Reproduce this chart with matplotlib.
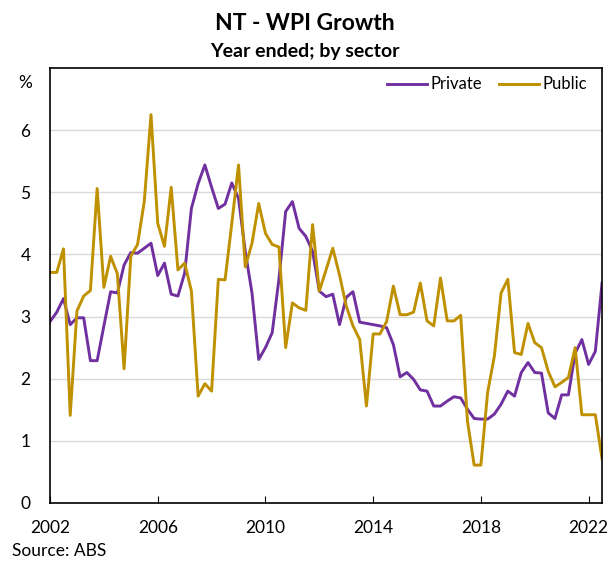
import matplotlib
matplotlib.use("Agg")
import matplotlib.pyplot as plt

plt.rcParams['font.family'] = ['Lato', 'DejaVu Sans']

# quarterly, year-ended WPI growth (%), from 2002
start_year = 2002
private = [
    2.92, 3.07, 3.29, 2.87, 2.98, 2.98, 2.29, 2.29, 2.85, 3.40,
    3.38, 3.83, 4.03, 4.02, 4.10, 4.18, 3.66, 3.86, 3.36, 3.33,
    3.70, 4.74, 5.14, 5.44, 5.08, 4.74, 4.81, 5.15, 4.90, 4.05,
    3.38, 2.31, 2.50, 2.74, 3.60, 4.69, 4.85, 4.42, 4.29, 4.05,
    3.41, 3.32, 3.36, 2.87, 3.31, 3.40, 2.91, 2.89, 2.87, 2.85,
    2.82, 2.55, 2.03, 2.10, 1.99, 1.82, 1.80, 1.56, 1.56, 1.64,
    1.71, 1.69, 1.51, 1.36, 1.35, 1.35, 1.43, 1.59, 1.80, 1.72,
    2.10, 2.26, 2.10, 2.09, 1.45, 1.36, 1.74, 1.74, 2.41, 2.63,
    2.23, 2.44, 3.54,
]
public = [
    3.71, 3.71, 4.09, 1.41, 3.09, 3.33, 3.42, 5.06, 3.47, 3.97,
    3.69, 2.16, 3.97, 4.16, 4.85, 6.25, 4.50, 4.13, 5.08, 3.75,
    3.86, 3.41, 1.72, 1.92, 1.80, 3.60, 3.59, 4.50, 5.44, 3.80,
    4.18, 4.82, 4.34, 4.16, 4.12, 2.50, 3.22, 3.14, 3.10, 4.48,
    3.41, 3.75, 4.10, 3.67, 3.17, 2.85, 2.63, 1.56, 2.72, 2.72,
    2.92, 3.49, 3.03, 3.03, 3.07, 3.54, 2.93, 2.85, 3.62, 2.93,
    2.93, 3.02, 1.32, 0.61, 0.61, 1.78, 2.36, 3.38, 3.60, 2.42,
    2.39, 2.89, 2.58, 2.50, 2.12, 1.87, 1.94, 2.02, 2.50, 1.42,
    1.42, 1.42, 0.71,
]
x = [start_year + i / 4 for i in range(len(private))]
year_ticks = [2002, 2006, 2010, 2014, 2018, 2022]

fig = plt.figure(figsize=(6.1, 5.62), dpi=100)
ax = fig.add_axes([0.082, 0.105, 0.905, 0.774])

ax.plot(x, private, color='#7030A0', lw=2.1, label='Private')
ax.plot(x, public, color='#BF9000', lw=2.1, label='Public')

ax.set_xlim(2002, 2022.5)
ax.set_ylim(0, 7)
ax.set_yticks(range(0, 7))
ax.set_xticks(year_ticks)
ax.grid(axis='y', color='#D9D9D9', lw=1)
ax.set_axisbelow(True)
for s in ax.spines.values():
    s.set_color('black')
    s.set_linewidth(1.2)
ax.tick_params(axis='y', length=0, pad=14, labelsize=12.5)
ax.tick_params(axis='x', direction='in', length=5, pad=12, labelsize=12.5)

ax.text(-0.033, 0.965, '%', transform=ax.transAxes, ha='right', va='center', fontsize=12.5)

ax.legend(loc='upper right', ncol=2, frameon=False, fontsize=12,
          handlelength=2.4, columnspacing=1.0, handletextpad=0.2,
          bbox_to_anchor=(1.0, 1.015))

fig.text(0.5, 0.958, 'NT - WPI Growth', ha='center', va='center', fontsize=16.5, fontweight='bold')
fig.text(0.5, 0.909, 'Year ended; by sector', ha='center', va='center', fontsize=14, fontweight='bold')
fig.text(0.02, 0.019, 'Source: ABS', ha='left', va='center', fontsize=12.5)

fig.savefig('out.png', dpi=100)
